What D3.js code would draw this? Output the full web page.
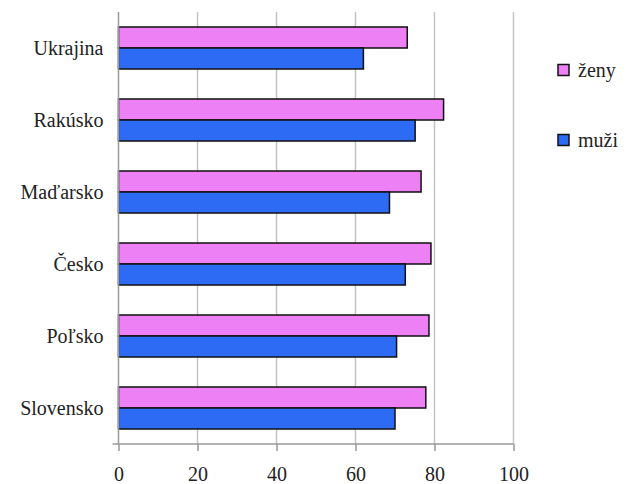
<!DOCTYPE html>
<html><head><meta charset="utf-8">
<script src="https://cdn.jsdelivr.net/npm/d3@7"></script>
<style>body{margin:0;background:#fff}</style>
</head><body>
<script>
const categories = ["Ukrajina","Rakúsko","Maďarsko","Česko","Poľsko","Slovensko"];
const zeny = [73.1, 82.3, 76.6, 79.1, 78.6, 77.8];
const muzi = [62.0, 75.1, 68.6, 72.6, 70.4, 70.0];
const seriesNames = ["ženy","muži"];
const xTicks = [0,20,40,60,80,100];

const W=627,H=484;
const m={left:118.5,right:113.5,top:12,bottom:40};
const colors=["#EE80F6","#2D6BF5"];
const FS="20px", TC="#222";

const svg=d3.select("body").append("svg").attr("width",W).attr("height",H)
 .attr("font-family","Liberation Serif").style("font-family",'"Times New Roman"');
const x=d3.scaleLinear().domain([0,100]).range([m.left,W-m.right]);
const y=d3.scaleBand().domain(categories).range([m.top,H-m.bottom]).paddingInner(0.4167).paddingOuter(0.2083);
const ys=d3.scaleBand().domain(seriesNames).range([0,y.bandwidth()]);
const txt=s=>s.style("font-family",'"Times New Roman"').style("font-size",FS).attr("fill",TC);

// gridlines
svg.append("g").selectAll("line").data(xTicks.slice(1)).join("line")
 .attr("x1",d=>x(d)).attr("x2",d=>x(d)).attr("y1",m.top).attr("y2",H-m.bottom)
 .attr("stroke","#c4c4c8").attr("stroke-width",1.5);

// bars
const data=categories.map((c,i)=>({c,vals:[zeny[i],muzi[i]]}));
const g=svg.append("g").selectAll("g").data(data).join("g").attr("transform",d=>`translate(0,${y(d.c)})`);
g.selectAll("rect").data(d=>d.vals.map((v,j)=>({v,s:seriesNames[j],j}))).join("rect")
 .attr("x",x(0)).attr("y",d=>ys(d.s)).attr("width",d=>x(d.v)-x(0)).attr("height",ys.bandwidth())
 .attr("fill",d=>colors[d.j]).attr("stroke","#111").attr("stroke-width",1.5);

// y axis line
svg.append("line").attr("x1",x(0)).attr("x2",x(0)).attr("y1",m.top).attr("y2",H-m.bottom)
 .attr("stroke","#999").attr("stroke-width",1.5);

// x axis
const xa=svg.append("g").attr("transform",`translate(0,${H-m.bottom})`)
 .call(d3.axisBottom(x).tickValues(xTicks).tickSize(7).tickPadding(16).tickSizeOuter(0));
xa.attr("font-family","Liberation Serif").attr("font-size",null);
xa.select(".domain").attr("d",`M${x(0)-6},0H${x(100)}`).attr("stroke","#999").attr("stroke-width",1.5);
xa.selectAll(".tick line").attr("stroke","#999").attr("stroke-width",1.5);
xa.selectAll(".tick text").call(txt);

// y labels
svg.append("g").selectAll("text").data(categories).join("text")
 .attr("x",x(0)-15).attr("y",d=>y(d)+y.bandwidth()/2).attr("dy","0.33em")
 .attr("text-anchor","end").call(txt).text(d=>d);

// legend
const lg=svg.append("g").selectAll("g").data(seriesNames).join("g")
 .attr("transform",(d,i)=>`translate(558,${70+i*70})`);
lg.append("rect").attr("x",0).attr("y",-5.5).attr("width",11).attr("height",11)
 .attr("fill",(d,i)=>colors[i]).attr("stroke","#111").attr("stroke-width",1.5);
lg.append("text").attr("x",20).attr("y",0).attr("dy","0.33em").call(txt).text(d=>d);
</script>
</body></html>
